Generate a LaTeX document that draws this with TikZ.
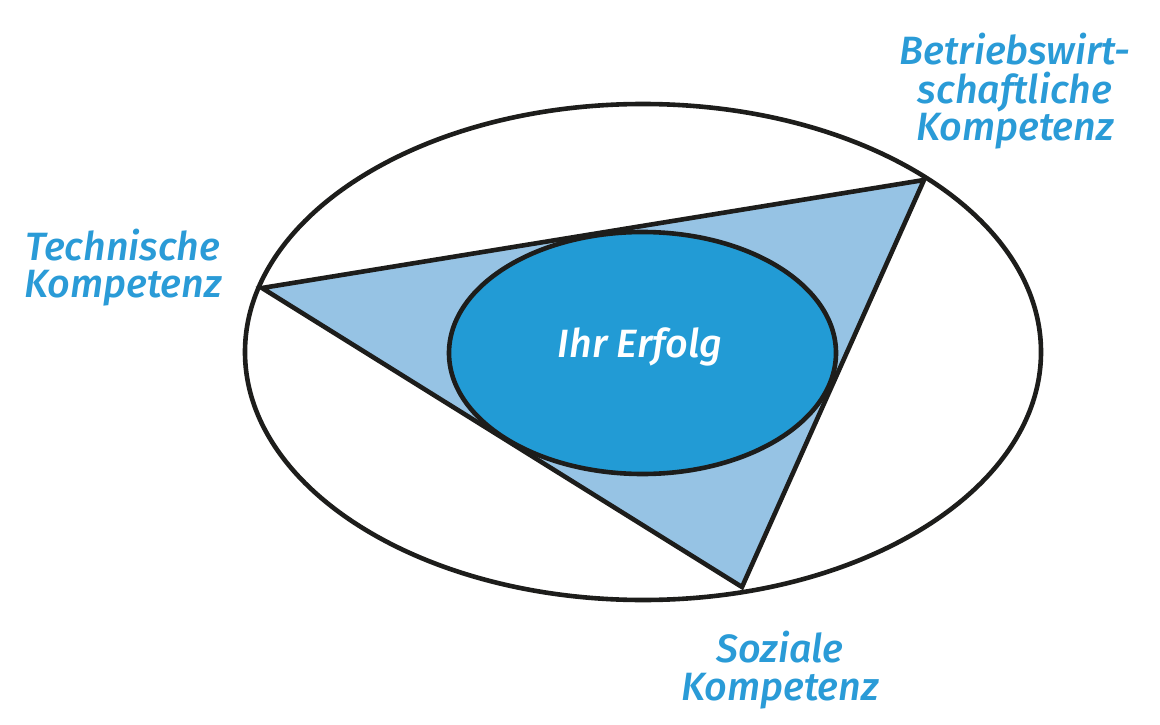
\documentclass[tikz,border=0pt]{standalone}
\usepackage{fontspec}
\newfontfamily\labfont{Fira Sans Medium Italic}
\usetikzlibrary{shapes.geometric}
\definecolor{strokec}{HTML}{1D1D1B}
\definecolor{trifill}{HTML}{96C3E4}
\definecolor{corefill}{HTML}{229BD5}
\definecolor{labc}{HTML}{2A9BD7}
\begin{document}
\begin{tikzpicture}[x=1pt,y=-1pt,
  outline/.style={draw=strokec,line width=4.6pt},
  lab/.style={text=labc,font=\labfont\fontsize{39.5}{37}\selectfont,inner sep=0pt,anchor=base},
  corelab/.style={text=white,font=\labfont\fontsize{39.5}{37}\selectfont,inner sep=0pt,anchor=base}]
\useasboundingbox[fill=white] (0,0) rectangle (1160,725);
\node (outer) [outline,ellipse,fill=white,minimum width=796pt,minimum height=496pt,inner sep=0pt] at (643,352) {};
\coordinate (tech) at (262,288);
\coordinate (bwl) at (924,180);
\coordinate (soz) at (742,587);
\draw[outline,fill=trifill] (tech) -- (bwl) -- (soz) -- cycle;
\node (core) [outline,ellipse,fill=corefill,minimum width=387pt,minimum height=242pt,inner sep=0pt] at (642.5,353) {};
\node (erfolg) [corelab] at (640,357) {Ihr Erfolg};
\node (b1) [lab] at (1015,65) {Betriebswirt-};
\node (b2) [lab] at (1015,103) {schaftliche};
\node (b3) [lab] at (1015,140) {Kompetenz};
\node (t1) [lab] at (123,260) {Technische};
\node (t2) [lab] at (123,297) {Kompetenz};
\node (s1) [lab] at (780,662) {Soziale};
\node (s2) [lab] at (780,700) {Kompetenz};
\end{tikzpicture}
\end{document}
